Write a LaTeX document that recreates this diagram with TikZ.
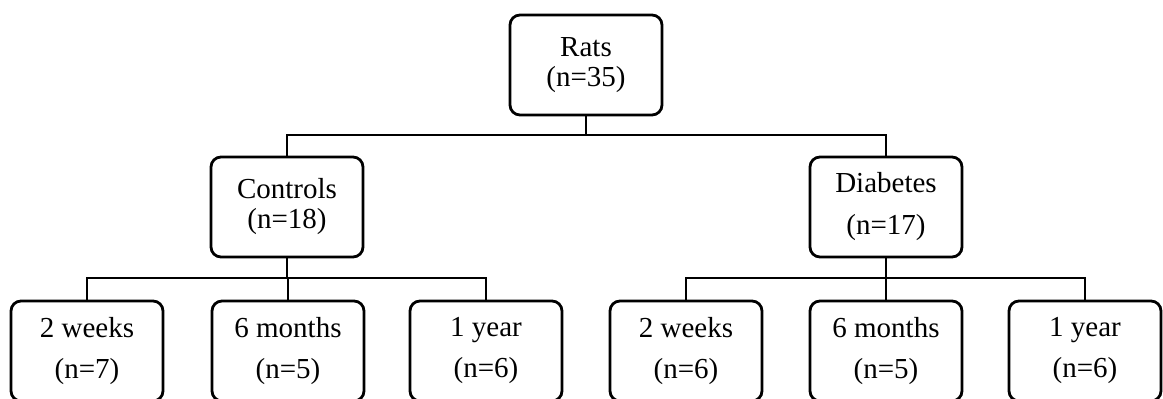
\documentclass[tikz,border=0pt]{standalone}
\usepackage{fontspec}
\setmainfont{Liberation Serif}
\tikzset{
    grpbox/.style={rectangle, draw=black, line width=2.8pt, rounded corners=10pt,
          minimum width=152pt, minimum height=100pt, inner sep=0pt,
          align=center, font=\fontsize{29}{30}\selectfont},
    link/.style={draw=black, line width=2.8pt}
}
\begin{document}
\begin{tikzpicture}[x=1pt, y=-1pt]
    \useasboundingbox (0,0) rectangle (1163,399);

    % Whole cohort
    \node[grpbox] (rats) at (586,65) {Rats\\(n=35)};

    % Two groups
    \node[grpbox] (ctrl) at (287,207) {Controls\\(n=18)};
    \node[grpbox] (diab) at (886,207) {Diabetes\\[12pt](n=17)};

    % Time points
    \node[grpbox] (ctrl2w) at (87,351)  {2 weeks\\[11pt](n=7)};
    \node[grpbox] (ctrl6m) at (288,351) {6 months\\[11pt](n=5)};
    \node[grpbox] (ctrl1y) at (486,351) {1 year\\[11pt](n=6)};
    \node[grpbox] (diab2w) at (686,351) {2 weeks\\[11pt](n=6)};
    \node[grpbox] (diab6m) at (886,351) {6 months\\[11pt](n=5)};
    \node[grpbox] (diab1y) at (1085,351) {1 year\\[11pt](n=6)};

    % Bars
    \coordinate (topbar) at (0,135);
    \coordinate (lowbar) at (0,278);

    \draw[link] (rats.south) -- (rats.south |- topbar) -| (ctrl.north);
    \draw[link] (rats.south |- topbar) -| (diab.north);
    \foreach \k in {ctrl2w,ctrl6m,ctrl1y}
        \draw[link] (ctrl.south) -- (ctrl.south |- lowbar) -| (\k.north);
    \foreach \k in {diab2w,diab6m,diab1y}
        \draw[link] (diab.south) -- (diab.south |- lowbar) -| (\k.north);
\end{tikzpicture}
\end{document}
